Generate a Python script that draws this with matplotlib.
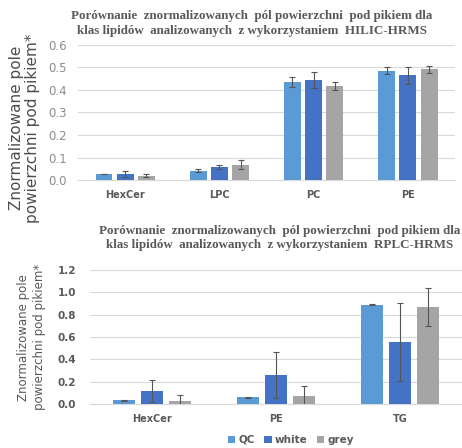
import numpy as np
import matplotlib.pyplot as plt

# HILIC-HRMS data
hilic_classes = ['HexCer', 'LPC', 'PC', 'PE']
hilic_qc = [0.027, 0.042, 0.433, 0.485]
hilic_qc_err = [0.002, 0.006, 0.022, 0.016]
hilic_white = [0.027, 0.059, 0.443, 0.464]
hilic_white_err = [0.014, 0.010, 0.035, 0.037]
hilic_grey = [0.020, 0.068, 0.417, 0.491]
hilic_grey_err = [0.006, 0.021, 0.019, 0.014]

# RPLC-HRMS data
rplc_classes = ['HexCer', 'PE', 'TG']
rplc_qc = [0.033, 0.060, 0.890]
rplc_qc_err = [0.005, 0.005, 0.005]
rplc_white = [0.119, 0.263, 0.555]
rplc_white_err = [0.100, 0.205, 0.350]
rplc_grey = [0.030, 0.069, 0.869]
rplc_grey_err = [0.050, 0.095, 0.167]

series_names = ['QC', 'white', 'grey']
colors = ['#5B9BD5', '#4472C4', '#A5A5A5']
txt = '#595959'

fig = plt.figure(figsize=(4.62, 4.48), dpi=100)
ax1 = fig.add_axes([0.169, 0.598, 0.816, 0.302])
ax2 = fig.add_axes([0.195, 0.098, 0.805, 0.299])

width = 0.18
offsets = [-0.225, 0, 0.225]


def draw(ax, classes, vals, errs, bold_ticks):
    x = np.arange(len(classes))
    for i in range(3):
        ax.bar(x + offsets[i], vals[i], width, color=colors[i], label=series_names[i],
               yerr=errs[i], error_kw=dict(ecolor='#555555', elinewidth=0.8, capsize=2, capthick=0.8),
               zorder=3)
    ax.set_xticks(x)
    ax.set_xticklabels(classes, fontsize=7, fontweight='bold', color=txt)
    ax.set_xlim(-0.5, len(classes) - 0.5)
    ax.grid(axis='y', color='#d9d9d9', linewidth=0.8, zorder=0)
    for s in ['top', 'right', 'left']:
        ax.spines[s].set_visible(False)
    ax.spines['bottom'].set_color('#d9d9d9')
    ax.tick_params(axis='both', length=0)
    ax.tick_params(axis='x', pad=7)
    if bold_ticks:
        ax.tick_params(axis='y', labelsize=7.5, labelcolor=txt, pad=10)
    else:
        ax.tick_params(axis='y', labelsize=8.5, labelcolor='#8c8c8c', pad=8)


draw(ax1, hilic_classes, [hilic_qc, hilic_white, hilic_grey],
     [hilic_qc_err, hilic_white_err, hilic_grey_err], False)
ax1.set_ylim(0, 0.6)
ax1.set_yticks(np.arange(0, 0.61, 0.1))
ax1.set_yticklabels([f'{v:.1f}' for v in np.arange(0, 0.61, 0.1)])
ax1.set_ylabel('Znormalizowane pole\npowierzchni pod pikiem*', fontsize=11,
               color='#4d4d4d', linespacing=1.15)
ax1.yaxis.set_label_coords(-0.10, 0.385)
ax1.set_title('Porównanie  znormalizowanych  pól powierzchni  pod pikiem dla\n'
              'klas lipidów  analizowanych  z wykorzystaniem  HILIC-HRMS',
              fontsize=9.4, fontweight='bold', family='Liberation Serif', color=txt,
              pad=8, x=0.46, linespacing=1.25)

draw(ax2, rplc_classes, [rplc_qc, rplc_white, rplc_grey],
     [rplc_qc_err, rplc_white_err, rplc_grey_err], True)
ax2.set_ylim(0, 1.2)
ax2.set_yticks(np.arange(0, 1.21, 0.2))
ax2.set_yticklabels([f'{v:.1f}' for v in np.arange(0, 1.21, 0.2)])
for lab in ax2.get_yticklabels():
    lab.set_fontweight('bold')
ax2.set_ylabel('Znormalizowane pole\npowierzchni pod pikiem*', fontsize=8.5,
               color=txt, labelpad=8, linespacing=1.3)
ax2.set_title('Porównanie  znormalizowanych  pól powierzchni  pod pikiem dla\n'
              'klas lipidów  analizowanych  z wykorzystaniem  RPLC-HRMS',
              fontsize=9.4, fontweight='bold', family='Liberation Serif', color=txt,
              pad=16, x=0.51, linespacing=1.25)

leg = ax2.legend(loc='upper center', bbox_to_anchor=(0.54, -0.16), ncol=3, frameon=False,
                 fontsize=7.5, handlelength=0.7, handleheight=0.7, handletextpad=0.3,
                 columnspacing=0.9, labelcolor=txt)
for t in leg.get_texts():
    t.set_fontweight('bold')

fig.savefig('out.png', dpi=100)
